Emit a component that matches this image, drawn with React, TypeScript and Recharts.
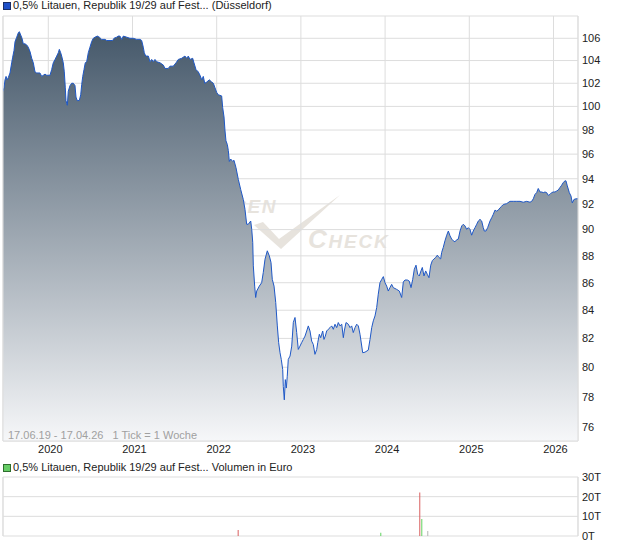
import React from 'react';
import { ComposedChart, Area, Bar, Cell, XAxis, YAxis, CartesianGrid, ReferenceLine } from 'recharts';

// weekly closes, time as fractional year
const priceTimes = [
  2019.462, 2019.474, 2019.486, 2019.498, 2019.513, 2019.525, 2019.545, 2019.565, 2019.577, 2019.593,
  2019.605, 2019.625, 2019.644, 2019.656, 2019.672, 2019.688, 2019.703, 2019.723, 2019.743, 2019.762,
  2019.783, 2019.803, 2019.822, 2019.842, 2019.862, 2019.901, 2019.922, 2019.941, 2019.961, 2019.981,
  2020.020, 2020.040, 2020.059, 2020.080, 2020.100, 2020.119, 2020.131, 2020.147, 2020.159, 2020.178,
  2020.190, 2020.202, 2020.210, 2020.226, 2020.237, 2020.258, 2020.278, 2020.297, 2020.317, 2020.329,
  2020.344, 2020.368, 2020.385, 2020.397, 2020.409, 2020.424, 2020.439, 2020.456, 2020.475, 2020.495,
  2020.515, 2020.534, 2020.555, 2020.582, 2020.606, 2020.634, 2020.673, 2020.694, 2020.733, 2020.765,
  2020.780, 2020.812, 2020.831, 2020.851, 2020.872, 2020.891, 2020.931, 2020.970, 2021.009, 2021.050,
  2021.089, 2021.109, 2021.128, 2021.140, 2021.157, 2021.188, 2021.208, 2021.228, 2021.247, 2021.267,
  2021.287, 2021.327, 2021.366, 2021.386, 2021.425, 2021.445, 2021.484, 2021.517, 2021.544, 2021.584,
  2021.623, 2021.644, 2021.663, 2021.683, 2021.715, 2021.730, 2021.754, 2021.781, 2021.802, 2021.822,
  2021.841, 2021.858, 2021.881, 2021.912, 2021.941, 2021.960, 2021.980, 2022.000, 2022.019, 2022.059,
  2022.071, 2022.087, 2022.098, 2022.110, 2022.126, 2022.138, 2022.150, 2022.166, 2022.190, 2022.205,
  2022.229, 2022.257, 2022.285, 2022.316, 2022.336, 2022.356, 2022.375, 2022.404, 2022.416, 2022.428,
  2022.435, 2022.451, 2022.463, 2022.475, 2022.506, 2022.534, 2022.553, 2022.574, 2022.601, 2022.625,
  2022.645, 2022.660, 2022.681, 2022.701, 2022.720, 2022.736, 2022.752, 2022.767, 2022.784, 2022.791,
  2022.803, 2022.815, 2022.827, 2022.838, 2022.850, 2022.871, 2022.891, 2022.910, 2022.930, 2022.950,
  2022.969, 2022.989, 2023.009, 2023.029, 2023.049, 2023.069, 2023.088, 2023.108, 2023.128, 2023.147,
  2023.167, 2023.188, 2023.200, 2023.219, 2023.235, 2023.259, 2023.274, 2023.290, 2023.306, 2023.325,
  2023.346, 2023.366, 2023.385, 2023.405, 2023.425, 2023.444, 2023.464, 2023.485, 2023.504, 2023.515,
  2023.536, 2023.563, 2023.583, 2023.603, 2023.622, 2023.643, 2023.663, 2023.682, 2023.702, 2023.734,
  2023.761, 2023.800, 2023.821, 2023.841, 2023.860, 2023.880, 2023.900, 2023.919, 2023.939, 2023.960,
  2023.979, 2023.999, 2024.019, 2024.038, 2024.058, 2024.078, 2024.097, 2024.138, 2024.169, 2024.197,
  2024.216, 2024.236, 2024.264, 2024.287, 2024.308, 2024.328, 2024.347, 2024.367, 2024.387, 2024.406,
  2024.426, 2024.442, 2024.462, 2024.482, 2024.501, 2024.521, 2024.542, 2024.561, 2024.581, 2024.601,
  2024.620, 2024.640, 2024.660, 2024.672, 2024.691, 2024.711, 2024.732, 2024.751, 2024.771, 2024.791,
  2024.810, 2024.830, 2024.850, 2024.869, 2024.890, 2024.910, 2024.929, 2024.949, 2024.969, 2024.988,
  2025.008, 2025.028, 2025.047, 2025.068, 2025.088, 2025.107, 2025.127, 2025.147, 2025.166, 2025.178,
  2025.198, 2025.218, 2025.246, 2025.266, 2025.285, 2025.305, 2025.325, 2025.344, 2025.365, 2025.385,
  2025.404, 2025.444, 2025.483, 2025.523, 2025.563, 2025.602, 2025.641, 2025.682, 2025.721, 2025.741,
  2025.760, 2025.780, 2025.800, 2025.819, 2025.840, 2025.860, 2025.879, 2025.899, 2025.919, 2025.938,
  2025.958, 2025.978, 2025.998, 2026.018, 2026.038, 2026.057, 2026.077, 2026.097, 2026.116, 2026.137,
  2026.148, 2026.164, 2026.188, 2026.208, 2026.223, 2026.243, 2026.267, 2026.291,
];

const priceValues = [
  101.3, 101.6, 102.3, 102.6, 102.3, 102.5, 102.9, 103.8, 104.3, 104.9,
  105.7, 106.1, 106.5, 106.6, 106.3, 106.0, 105.5, 105.5, 105.4, 105.2,
  104.8, 104.2, 103.8, 103.0, 102.9, 102.9, 102.6, 102.7, 102.8, 102.7,
  102.7, 103.2, 103.8, 104.1, 104.4, 104.7, 105.0, 104.7, 104.4, 103.8,
  103.0, 101.6, 100.5, 100.1, 101.3, 101.8, 102.0, 102.0, 101.8, 100.8,
  100.5, 100.5, 101.0, 101.9, 102.6, 103.2, 103.8, 103.9, 104.7, 105.2,
  105.7, 106.0, 106.1, 106.2, 106.1, 105.9, 105.9, 105.8, 105.8, 105.8,
  106.0, 106.1, 106.2, 106.2, 105.9, 106.2, 106.1, 106.0, 106.0, 105.9,
  105.9, 105.8, 105.2, 104.7, 104.4, 104.4, 103.9, 104.1, 103.9, 104.1,
  103.9, 103.8, 103.6, 103.3, 103.3, 103.5, 103.5, 103.8, 104.1, 104.2,
  104.4, 104.2, 104.4, 104.1, 104.2, 103.8, 103.2, 103.0, 102.7, 102.3,
  102.6, 102.0, 102.1, 102.3, 102.1, 102.0, 101.6, 101.2, 101.0, 100.9,
  99.9, 99.1, 98.0, 97.1, 96.8, 96.3, 95.4, 95.6, 95.4, 95.5,
  94.9, 93.94, 93.14, 92.34, 91.56, 90.41, 90.41, 90.66, 90.02, 89.02,
  87.25, 85.75, 84.92, 85.39, 85.75, 86.0, 86.75, 87.75, 88.38, 88.0,
  87.5, 86.25, 85.75, 84.56, 82.88, 81.7, 81.0, 80.54, 79.84, 78.7,
  77.8, 79.16, 78.59, 79.39, 80.54, 80.77, 81.46, 83.13, 83.48, 82.41,
  81.23, 81.46, 81.7, 81.93, 82.16, 82.52, 82.88, 82.52, 81.81, 81.58,
  80.89, 81.23, 81.7, 82.29, 82.05, 82.52, 81.93, 82.16, 82.52, 82.64,
  82.76, 82.88, 82.64, 83.0, 82.76, 83.12, 82.88, 83.0, 82.05, 82.52,
  83.12, 83.0, 82.76, 82.88, 82.41, 82.76, 83.0, 82.88, 82.29, 81.0,
  81.04, 81.18, 81.93, 82.76, 83.24, 83.59, 84.19, 85.16, 86.0, 86.25,
  86.45, 86.0, 85.75, 85.39, 85.64, 85.88, 85.64, 85.51, 85.39, 84.92,
  86.05, 86.2, 86.2, 86.12, 85.64, 86.25, 87.0, 87.3, 86.62, 86.5,
  86.87, 87.13, 86.5, 86.87, 86.62, 86.37, 87.3, 87.64, 87.77, 87.88,
  88.05, 87.88, 87.77, 88.26, 88.64, 89.14, 89.57, 89.89, 89.52, 89.27,
  89.14, 89.06, 89.22, 89.27, 89.89, 90.28, 90.41, 90.28, 90.02, 90.15,
  90.02, 89.57, 89.89, 90.15, 90.41, 90.66, 90.79, 90.66, 90.15, 89.89,
  89.89, 90.15, 90.66, 90.92, 91.18, 91.51, 91.43, 91.51, 91.69, 91.82,
  91.95, 92.02, 92.2, 92.2, 92.2, 92.2, 92.13, 92.2, 92.13, 92.2,
  92.4, 92.75, 92.89, 93.22, 92.94, 92.94, 92.89, 92.94, 92.89, 92.67,
  92.75, 92.89, 92.94, 92.94, 93.02, 93.1, 93.3, 93.48, 93.7, 93.83,
  93.83, 93.43, 92.89, 92.62, 92.08, 92.35, 92.4, 92.4,
];

const priceTicks = [76, 78, 80, 82, 84, 86, 88, 90, 92, 94, 96, 98, 100, 102, 104, 106];
const yearTicks = [2020, 2021, 2022, 2023, 2024, 2025, 2026];

const volumeTimes = [2022.249, 2023.943, 2024.406, 2024.43, 2024.501];
const volumeValues = [3100, 1700, 22100, 8700, 2600];
const volumeColors = ['#d95f5f', '#5fd35f', '#d95f5f', '#5fd35f', '#b4b4b4'];
const volumeTicks = [0, 10000, 20000, 30000];

const X_DOMAIN: [number, number] = [2019.462, 2026.291];
const PRICE_DOMAIN: [number, number] = [75.11, 108.04];

const priceData = priceTimes.map((t, i) => ({ t, v: priceValues[i] }));
const volumeData = volumeTimes.map((t, i) => ({ t, vol: volumeValues[i] }));

const GRID = '#dddddd';
const FONT = "'Liberation Sans', Arial, sans-serif";

const App: React.FC = () => {
  return (
    <div style={{ position: 'absolute', left: 0, top: 0, width: 620, height: 546, fontFamily: FONT, background: '#fff' }}>
      {/* watermark, sits behind the price area */}
      <svg width={620} height={460} style={{ position: 'absolute', left: 0, top: 0 }}>
        <g fill="#e7e3dd" fontFamily={FONT} fontStyle="italic" fontWeight="bold">
          <text x={277} y={213} fontSize={19} textAnchor="end" letterSpacing={1.5}>BÖRSEN</text>
          <path d="M254 225 L263 222 L279 239 L340 195 L281 249 Z" />
          <text x={308} y={248} fontSize={19} letterSpacing={1.8}>
            <tspan fontSize={26}>C</tspan>HECK
          </text>
        </g>
      </svg>

      <div style={{ position: 'absolute', left: 0, top: 0 }}>
        <ComposedChart width={620} height={460} data={priceData} margin={{ top: 16, right: 0, bottom: 0, left: 3 }}>
          <defs>
            <linearGradient id="priceFill" x1="0" y1="0" x2="0" y2="1">
              <stop offset="0%" stopColor="#45586a" />
              <stop offset="100%" stopColor="#f6f7f9" />
            </linearGradient>
          </defs>
          <CartesianGrid stroke={GRID} />
          <XAxis
            dataKey="t"
            type="number"
            domain={X_DOMAIN}
            ticks={yearTicks}
            interval={0}
            allowDataOverflow
            height={19}
            tickSize={0}
            tickMargin={4}
            tickLine={false}
            axisLine={{ stroke: GRID }}
            tick={{ fill: '#222', fontSize: 11, dx: 2 }}
          />
          <YAxis
            orientation="right"
            scale="log"
            domain={PRICE_DOMAIN}
            ticks={priceTicks}
            interval={0}
            allowDataOverflow
            width={42}
            tickSize={0}
            tickMargin={4}
            tickLine={false}
            axisLine={{ stroke: GRID }}
            tick={{ fill: '#222', fontSize: 11, textAnchor: 'start' }}
          />
          <ReferenceLine x={X_DOMAIN[0]} stroke={GRID} />
          <Area
            type="linear"
            dataKey="v"
            stroke="#1f58c6"
            strokeWidth={1}
            fill="url(#priceFill)"
            fillOpacity={1}
            dot={false}
            activeDot={false}
            isAnimationActive={false}
          />
        </ComposedChart>
      </div>

      <div style={{ position: 'absolute', left: 8, top: 429, fontSize: 11, lineHeight: '12px', color: '#a0a0a0', whiteSpace: 'pre' }}>
        {'17.06.19 - 17.04.26   1 Tick = 1 Woche'}
      </div>

      <div style={{ position: 'absolute', left: 3, top: 2, width: 6, height: 6, background: '#1e50c8', border: '1px solid #1a2e66' }} />
      <div style={{ position: 'absolute', left: 13, top: 0, fontSize: 11, lineHeight: '11px', color: '#222', whiteSpace: 'nowrap' }}>
        0,5% Litauen, Republik 19/29 auf Fest... (Düsseldorf)
      </div>

      <div style={{ position: 'absolute', left: 3, top: 464, width: 6, height: 6, background: '#66cc66', border: '1px solid #2e6e2e' }} />
      <div style={{ position: 'absolute', left: 13, top: 462, fontSize: 11, lineHeight: '11px', color: '#222', whiteSpace: 'nowrap' }}>
        0,5% Litauen, Republik 19/29 auf Fest... Volumen in Euro
      </div>

      <div style={{ position: 'absolute', left: 0, top: 460 }}>
        <ComposedChart width={620} height={86} data={volumeData} margin={{ top: 17, right: 0, bottom: 10, left: 3 }}>
          <CartesianGrid stroke={GRID} />
          <XAxis
            dataKey="t"
            type="number"
            domain={X_DOMAIN}
            ticks={yearTicks}
            interval={0}
            allowDataOverflow
            height={0}
            tick={false}
            tickSize={0}
            tickLine={false}
            axisLine={{ stroke: GRID }}
          />
          <YAxis
            orientation="right"
            domain={[0, 30000]}
            ticks={volumeTicks}
            interval={0}
            allowDataOverflow
            width={42}
            tickSize={0}
            tickMargin={4}
            tickLine={false}
            axisLine={{ stroke: GRID }}
            tick={{ fill: '#222', fontSize: 11, textAnchor: 'start' }}
            tickFormatter={(v: number) => `${v / 1000}T`}
          />
          <ReferenceLine x={X_DOMAIN[0]} stroke={GRID} />
          <Bar dataKey="vol" barSize={1} isAnimationActive={false}>
            {volumeData.map((d, i) => (
              <Cell key={`vol-${i}`} fill={volumeColors[i]} />
            ))}
          </Bar>
        </ComposedChart>
      </div>
    </div>
  );
};

export default App;
